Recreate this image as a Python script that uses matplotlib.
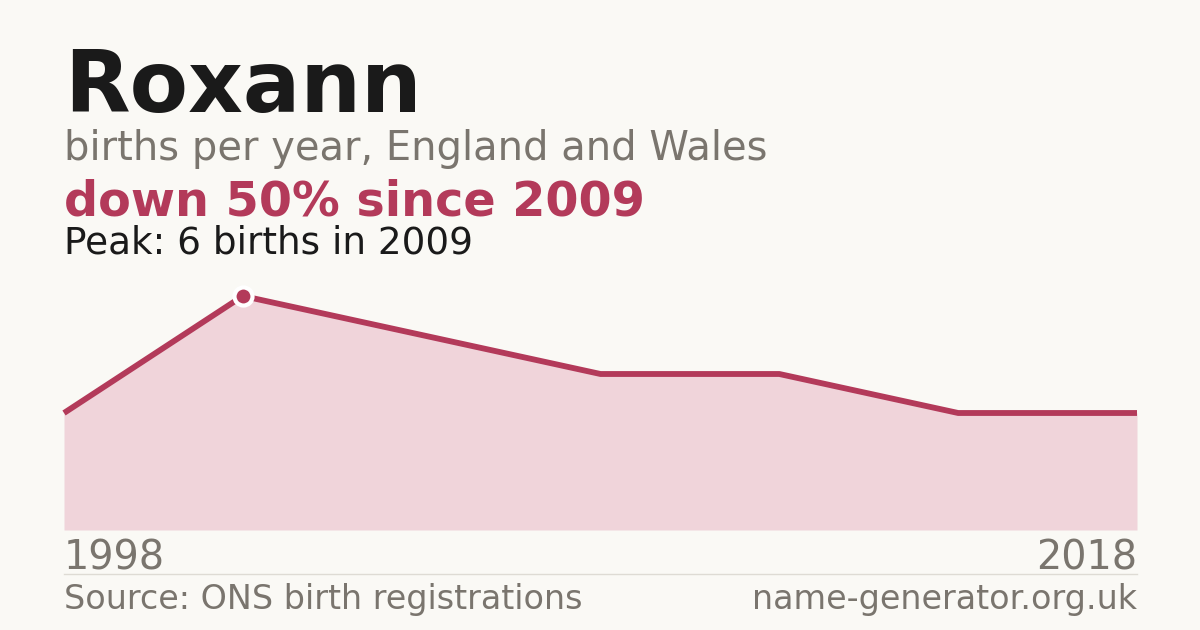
import matplotlib.pyplot as plt

# births per year (points plotted at equal spacing, first year to last year)
births = [3, 6, 5, 4, 4, 3, 3]
first_year = "1998"
last_year = "2018"
peak_idx = 1

name = "Roxann"
subtitle = "births per year, England and Wales"
headline = "down 50% since 2009"
peak_text = "Peak: 6 births in 2009"
source = "Source: ONS birth registrations"
site = "name-generator.org.uk"

BG = "#faf9f5"
RED = "#b33a5a"
FILL = "#f0d4da"
GREY = "#7a756e"
DARK = "#1a1a1a"

W, H = 1200, 630
fig = plt.figure(figsize=(12, 6.3), dpi=100, facecolor=BG)


def px(x, y):
    return x / W, 1 - y / H


# chart area: x 64..1137, y 296 (peak) .. 530 (zero)
ax = fig.add_axes([64 / W, 1 - 530 / H, (1137 - 64) / W, (530 - 296) / H])
ax.set_facecolor(BG)
xs = list(range(len(births)))
ax.fill_between(xs, 0, births, color=FILL, lw=0)
ax.plot(xs, births, color=RED, lw=4.2, solid_capstyle="butt", clip_on=False)
ax.plot(xs[peak_idx], births[peak_idx], "o", ms=13, color=RED,
        mec="white", mew=3, clip_on=False, zorder=5)
ax.set_xlim(0, len(births) - 1)
ax.set_ylim(0, max(births))
ax.axis("off")

fig.text(*px(64, 112), name, fontsize=61.3, fontweight="bold", color=DARK, va="baseline")
fig.text(*px(64, 160), subtitle, fontsize=28.8, color=GREY, va="baseline")
fig.text(*px(64, 215), headline, fontsize=34.4, fontweight="bold", color=RED, va="baseline")
fig.text(*px(64, 254), peak_text, fontsize=26.9, color=DARK, va="baseline")

fig.text(*px(64, 569), first_year, fontsize=28.6, color=GREY, va="baseline")
fig.text(*px(1137, 569), last_year, fontsize=28.6, color=GREY, va="baseline", ha="right")
fig.add_artist(plt.Line2D([64 / W, 1137 / W], [1 - 574 / H] * 2, color="#dedbd4", lw=1))
fig.text(*px(64, 609), source, fontsize=24, color=GREY, va="baseline")
fig.text(*px(1137, 609), site, fontsize=24, color=GREY, va="baseline", ha="right")

fig.savefig("out.png", dpi=100, facecolor=BG)
